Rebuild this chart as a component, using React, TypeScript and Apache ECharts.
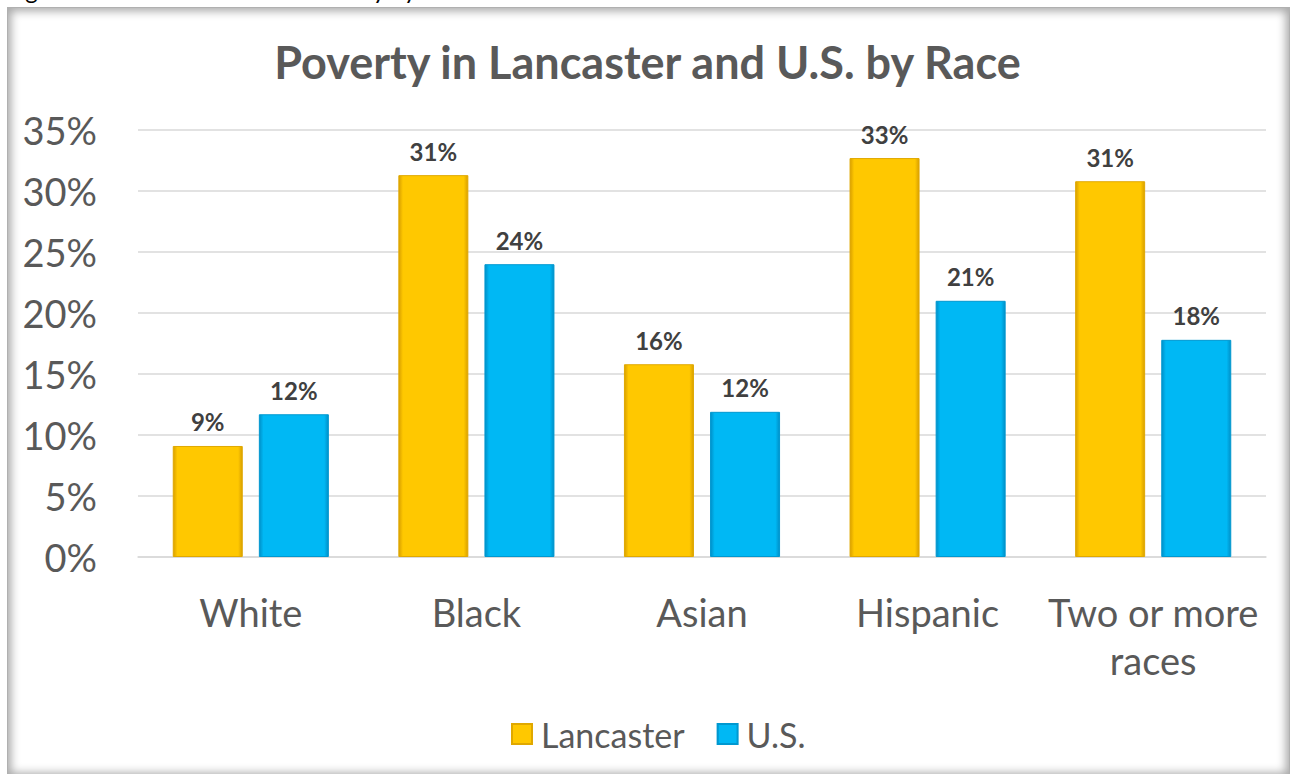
import React, { useEffect, useRef } from "react";
import * as echarts from "echarts";

const categories = ["White", "Black", "Asian", "Hispanic", "Two or more\nraces"];
const lancaster = [9.1, 31.3, 15.8, 32.7, 30.8];
const us = [11.7, 24.0, 11.9, 21.0, 17.8];
const seriesNames = ["Lancaster", "U.S."];
const chartTitle = "Poverty in Lancaster and U.S. by Race";
const caption = "Figure 6: Lancaster and U.S. Poverty by Race";

const FONT = "Lato, 'Noto Sans', sans-serif";

function bevel(main: string, dark: string) {
  return new echarts.graphic.LinearGradient(0, 0, 1, 0, [
    { offset: 0, color: dark },
    { offset: 0.06, color: main },
    { offset: 0.94, color: main },
    { offset: 1, color: dark },
  ]);
}

export default function App() {
  const ref = useRef<HTMLDivElement>(null);
  useEffect(() => {
    if (!ref.current) return;
    const chart = echarts.init(ref.current, null, { renderer: "svg" });
    const labelCfg = {
      show: true,
      position: "top" as const,
      distance: 12,
      fontFamily: FONT,
      fontWeight: "bold" as const,
      fontSize: 24,
      color: "#404040",
      formatter: (p: any) => Math.round(p.value) + "%",
    };
    chart.setOption({
      animation: false,
      backgroundColor: "transparent",
      title: {
        text: chartTitle,
        left: "center",
        top: 34,
        textStyle: { fontFamily: FONT, fontSize: 45, fontWeight: "bold", color: "#595959" },
      },
      legend: {
        data: seriesNames,
        left: 506,
        top: 712,
        itemWidth: 20,
        itemHeight: 20,
        itemGap: 32,
        icon: "rect",
        textStyle: { fontFamily: FONT, fontSize: 34, color: "#595959", padding: [0, 0, 0, 4] },
      },
      grid: { left: 138, right: 29, top: 130, bottom: 217, containLabel: false },
      xAxis: {
        type: "category",
        data: categories,
        axisLine: { lineStyle: { color: "#d9d9d9", width: 1.5 } },
        axisTick: { show: false },
        axisLabel: {
          fontFamily: FONT,
          fontSize: 38,
          color: "#595959",
          margin: 31,
          lineHeight: 48,
          interval: 0,
        },
      },
      yAxis: {
        type: "value",
        min: 0,
        max: 35,
        interval: 5,
        axisLine: { show: false },
        axisTick: { show: false },
        splitLine: { lineStyle: { color: "#d9d9d9", width: 1.5 } },
        axisLabel: {
          fontFamily: FONT,
          fontSize: 38,
          color: "#595959",
          margin: 41,
          formatter: "{value}%",
        },
      },
      series: [
        {
          name: seriesNames[0],
          type: "bar",
          data: lancaster,
          barWidth: 70,
          barGap: "23%",
          color: "#FFC000",
          itemStyle: {
            color: bevel("#FFC800", "#D9A000"),
            borderColor: "#E0A800",
            borderWidth: 1,
          },
          label: labelCfg,
        },
        {
          name: seriesNames[1],
          type: "bar",
          data: us,
          barWidth: 70,
          color: "#00B0F0",
          itemStyle: {
            color: bevel("#00B8F4", "#0090C8"),
            borderColor: "#0098D0",
            borderWidth: 1,
          },
          label: labelCfg,
        },
      ],
      graphic: [
        {
          type: "text",
          x: 6,
          y: -11,
          style: {
            text: caption,
            fontFamily: "Lato, sans-serif",
            fontSize: 24,
            fill: "#000",
            verticalAlign: "middle",
          },
          z: 10,
        },
      ],
    });
    return () => chart.dispose();
  }, []);
  return (
    <div style={{ position: "fixed", left: 0, top: 0, width: 1295, height: 774, background: "#fff", overflow: "hidden" }}>
      <div
        style={{
          position: "absolute",
          left: 7,
          top: 7,
          width: 1283,
          height: 770,
          boxSizing: "border-box",
          border: "1px solid #b0b0b0",
          boxShadow: "inset 0 0 10px 3px rgba(0,0,0,0.35)",
        }}
      />
      <div ref={ref} style={{ position: "absolute", left: 0, top: 0, width: 1295, height: 774 }} />
    </div>
  );
}
